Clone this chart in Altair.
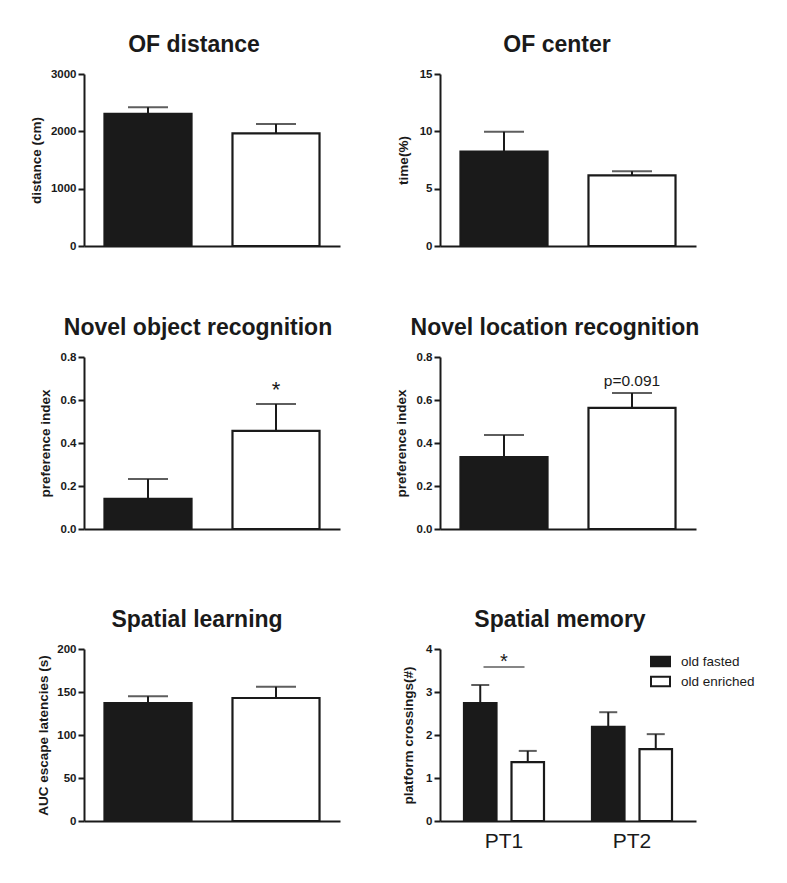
import altair as alt
import pandas as pd

# ---------------- data ----------------
groups = ["old fasted", "old enriched"]

of_dist_mean = [2304, 1966]
of_dist_sem = [115, 164]

of_center_mean = [8.24, 6.16]
of_center_sem = [1.73, 0.35]

nor_mean = [0.140, 0.456]
nor_sem = [0.093, 0.125]

nlr_mean = [0.335, 0.563]
nlr_sem = [0.102, 0.070]

sl_mean = [137, 143]
sl_sem = [8, 13]

sm_tests = ["PT1", "PT1", "PT2", "PT2"]
sm_groups = ["old fasted", "old enriched", "old fasted", "old enriched"]
sm_mean = [2.74, 1.37, 2.19, 1.67]
sm_sem = [0.42, 0.26, 0.34, 0.35]

# annotations
nor_note_group = ["old enriched"]
nor_note_y = [0.615]
nor_note_text = ["*"]

nlr_note_group = ["old enriched"]
nlr_note_y = [0.688]
nlr_note_text = ["p=0.091"]

sm_sig_test = ["PT1"]
sm_sig_line_y = [3.58]
sm_sig_star_y = [3.555]
sm_sig_text = ["*"]

# ---------------- style ----------------
FONT = "Liberation Sans"
INK = "#1a1a1a"
W, H = 256, 172

fill_scale = alt.Scale(domain=groups, range=[INK, "#ffffff"])


def y_axis(title, values, fmt, title_pad):
    return alt.Axis(
        title=title, values=values, format=fmt, grid=False,
        domainColor=INK, domainWidth=2, tickColor=INK, tickWidth=2, tickSize=6,
        labelFont=FONT, labelFontWeight="bold", labelFontSize=11.5, labelColor=INK,
        labelPadding=2, titleFont=FONT, titleFontWeight="bold", titleFontSize=13.5,
        titleColor=INK, titlePadding=title_pad,
    )


def x_axis_blank(extra=False):
    if extra:
        return alt.Axis(title=None, labels=True, labelOpacity=0, labelFontSize=13,
                        labelPadding=2, ticks=False, domainColor=INK, domainWidth=2,
                        labelAngle=0)
    return alt.Axis(title=None, labels=False, ticks=False, domainColor=INK, domainWidth=2)


def make_title(text, dx):
    return alt.TitleParams(text=text, font=FONT, fontSize=23, fontWeight="bold",
                           color=INK, anchor="middle", dx=dx, offset=11)


def single_panel(title, ytitle, mean, sem, ymax, values, fmt, dx, tpad,
                 extra=False, note=None):
    df = pd.DataFrame({
        "group": groups,
        "mean": mean,
        "upper": [m + s for m, s in zip(mean, sem)],
    })
    xs = alt.Scale(paddingInner=0.32, paddingOuter=0.16)
    x = alt.X("group:N", sort=groups, scale=xs, axis=x_axis_blank(extra))
    y = alt.Y("mean:Q", scale=alt.Scale(domain=[0, ymax], nice=False),
              axis=y_axis(ytitle, values, fmt, tpad))
    base = alt.Chart(df)
    rule = base.mark_rule(color=INK, strokeWidth=2).encode(x=x, y=y, y2="upper:Q")
    cap = base.mark_tick(orient="horizontal", size=40, thickness=2, color=INK).encode(
        x=x, y="upper:Q")
    bars = base.mark_bar(stroke=INK, strokeWidth=2.2).encode(
        x=x, y=y, fill=alt.Fill("group:N", scale=fill_scale, legend=None))
    layers = [rule, cap, bars]
    if note is not None:
        ndf, fsize, baseline = note
        layers.append(alt.Chart(ndf).mark_text(
            font=FONT, fontSize=fsize, color=INK, baseline=baseline).encode(
            x=alt.X("group:N", sort=groups), y="y:Q", text="text:N"))
    return alt.layer(*layers).properties(width=W, height=H, title=make_title(title, dx))


p1 = single_panel("OF distance", "distance (cm)", of_dist_mean, of_dist_sem, 3000,
                  [0, 1000, 2000, 3000], "d", -18, 7)
p2 = single_panel("OF center", "time(%)", of_center_mean, of_center_sem, 15,
                  [0, 5, 10, 15], "d", -11, 9)
nor_df = pd.DataFrame({"group": nor_note_group, "y": nor_note_y, "text": nor_note_text})
p3 = single_panel("Novel object recognition", "preference index", nor_mean, nor_sem, 0.8,
                  [0, 0.2, 0.4, 0.6, 0.8], ".1f", -14, 8, extra=True,
                  note=(nor_df, 22, "alphabetic"))
nlr_df = pd.DataFrame({"group": nlr_note_group, "y": nlr_note_y, "text": nlr_note_text})
p4 = single_panel("Novel location recognition", "preference index", nlr_mean, nlr_sem, 0.8,
                  [0, 0.2, 0.4, 0.6, 0.8], ".1f", -13, 8, extra=True,
                  note=(nlr_df, 15.5, "middle"))
p5 = single_panel("Spatial learning", "AUC escape latencies (s)", sl_mean, sl_sem, 200,
                  [0, 50, 100, 150, 200], "d", -15, 6)

# spatial memory grouped panel
sm_df = pd.DataFrame({
    "test": sm_tests,
    "group": sm_groups,
    "mean": sm_mean,
    "upper": [m + s for m, s in zip(sm_mean, sm_sem)],
})
sm_x = alt.X("test:N", scale=alt.Scale(paddingInner=0.375, paddingOuter=0.1875),
             axis=alt.Axis(title=None, ticks=False, domainColor=INK, domainWidth=2,
                           labelFont=FONT, labelFontSize=21, labelColor=INK,
                           labelAngle=0, labelPadding=9))
sm_xo = alt.XOffset("group:N", sort=groups,
                    scale=alt.Scale(paddingInner=0.316, paddingOuter=0))
sm_y = alt.Y("mean:Q", scale=alt.Scale(domain=[0, 4], nice=False),
             axis=y_axis("platform crossings(#)", [0, 1, 2, 3, 4], "d", 10))
sm_base = alt.Chart(sm_df)
sm_rule = sm_base.mark_rule(color=INK, strokeWidth=2).encode(
    x=sm_x, xOffset=sm_xo, y=sm_y, y2="upper:Q")
sm_cap = sm_base.mark_tick(orient="horizontal", size=18, thickness=2, color=INK).encode(
    x=sm_x, xOffset=sm_xo, y="upper:Q")
sm_bars = sm_base.mark_bar(stroke=INK, strokeWidth=2.2).encode(
    x=sm_x, xOffset=sm_xo, y=sm_y,
    fill=alt.Fill("group:N", scale=fill_scale,
                  legend=alt.Legend(title=None, orient="none", legendX=210, legendY=2,
                                    symbolType="M-1,-0.5H1V0.5H-1Z", symbolSize=361,
                                    symbolStrokeColor=INK, symbolStrokeWidth=2,
                                    labelFont=FONT, labelFontSize=13.5, labelColor=INK,
                                    labelOffset=10, rowPadding=0, padding=0)))
sig_df = pd.DataFrame({"test": sm_sig_test, "ly": sm_sig_line_y, "sy": sm_sig_star_y,
                       "text": sm_sig_text})
sm_line = alt.Chart(sig_df).mark_tick(orient="horizontal", size=41, thickness=1.5,
                                      color=INK).encode(x="test:N", y="ly:Q")
sm_star = alt.Chart(sig_df).mark_text(font=FONT, fontSize=20, color=INK,
                                      baseline="alphabetic").encode(
    x="test:N", y="sy:Q", text="text:N")
p6 = alt.layer(sm_rule, sm_cap, sm_bars, sm_line, sm_star).properties(
    width=W, height=H, title=make_title("Spatial memory", -8))

chart = alt.concat(p1, p2, p3, p4, p5, p6, columns=2,
                   spacing={"row": 65, "column": 54}).resolve_scale(
    fill="independent").resolve_legend(fill="independent").configure_view(
    stroke=None).properties(padding={"left": 21, "top": 26, "right": 5, "bottom": 5})

chart.save("out.html", embed_options={"renderer": "svg", "actions": False})
